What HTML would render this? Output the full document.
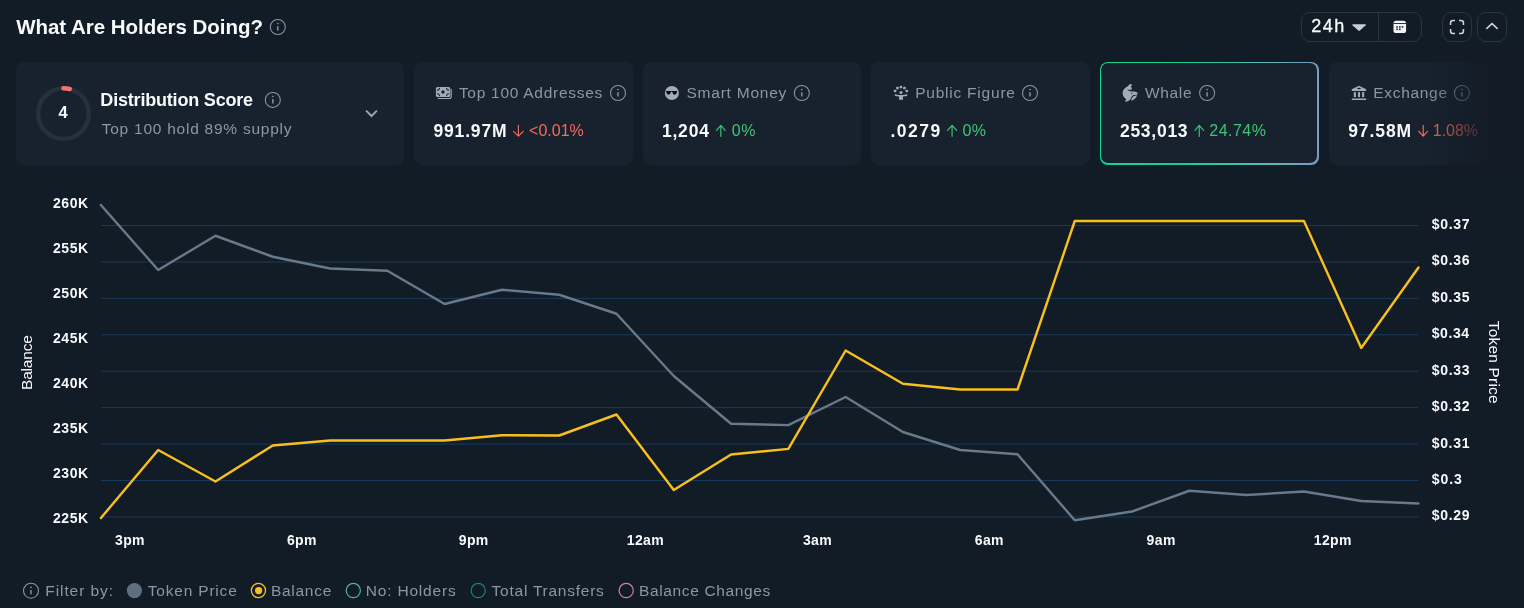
<!DOCTYPE html>
<html><head><meta charset="utf-8"><title>What Are Holders Doing?</title>
<style>
html,body{margin:0;padding:0;background:#121c26;}
body{width:1524px;height:608px;position:relative;overflow:hidden;font-family:"Liberation Sans",sans-serif;}
.t{position:absolute;white-space:pre;}
.card{position:absolute;top:62px;height:103px;background:#17222e;border-radius:8px;}
.btn{position:absolute;box-sizing:border-box;border:1px solid #2a343f;border-radius:9px;}
.rot{position:absolute;white-space:pre;color:#f8f9fb;font-size:15px;line-height:15px;}
svg{position:absolute;left:0;top:0;}
</style></head><body>
<div class="card" style="left:16px;width:388px"></div>
<div class="card" style="left:414px;width:218.67px"></div>
<div class="card" style="left:642.67px;width:218.67px"></div>
<div class="card" style="left:871.33px;width:218.67px"></div>
<div class="card" id="whale" style="left:1100px;width:219px;background:linear-gradient(90deg,#11d68c 0%,#15d090 38%,#55b9b4 72%,#7b9cc2 100%)"><div style="position:absolute;left:1px;top:1px;right:2px;bottom:2px;border-radius:7px;background:#17222e"></div></div>
<div class="card" style="left:1328.67px;width:218.67px"></div>
<div class="btn" style="left:1301px;top:12px;width:121px;height:30px"></div>
<div style="position:absolute;left:1378px;top:12px;width:1px;height:30px;background:#2a343f"></div>
<div class="btn" style="left:1442px;top:12px;width:30px;height:30px"></div>
<div class="btn" style="left:1477px;top:12px;width:30px;height:30px"></div>
<div class="t" style="left:16.17px;top:17px;font-size:20.5px;line-height:20.5px;font-weight:700;color:#f8f9fb;letter-spacing:-0.033px">What Are Holders Doing?</div>
<div class="t" style="left:1311.20px;top:17px;font-size:18px;line-height:18px;font-weight:400;color:#f8f9fb;letter-spacing:1.515px;-webkit-text-stroke:0.3px #f8f9fb">24h</div>
<div class="t" style="left:58.39px;top:104px;font-size:16.5px;line-height:16.5px;font-weight:700;color:#f8f9fb;letter-spacing:0.000px">4</div>
<div class="t" style="left:100.33px;top:91px;font-size:18px;line-height:18px;font-weight:700;color:#f8f9fb;letter-spacing:-0.191px">Distribution Score</div>
<div class="t" style="left:101.70px;top:121px;font-size:15.5px;line-height:15.5px;font-weight:400;color:#8d97a3;letter-spacing:0.756px">Top 100 hold 89% supply</div>
<div class="t" style="left:458.90px;top:85px;font-size:15.5px;line-height:15.5px;font-weight:400;color:#8d97a3;letter-spacing:0.725px">Top 100 Addresses</div>
<div class="t" style="left:433.48px;top:123px;font-size:17.5px;line-height:17.5px;font-weight:700;color:#f8f9fb;letter-spacing:0.833px">991.97M</div>
<div class="t" style="left:529.06px;top:123px;font-size:16px;line-height:16px;font-weight:400;color:#f96a5e;letter-spacing:0.013px">&lt;0.01%</div>
<div class="t" style="left:686.49px;top:85px;font-size:15.5px;line-height:15.5px;font-weight:400;color:#8d97a3;letter-spacing:0.763px">Smart Money</div>
<div class="t" style="left:661.91px;top:123px;font-size:17.5px;line-height:17.5px;font-weight:700;color:#f8f9fb;letter-spacing:0.800px">1,204</div>
<div class="t" style="left:731.79px;top:123px;font-size:16px;line-height:16px;font-weight:400;color:#3cc676;letter-spacing:0.533px">0%</div>
<div class="t" style="left:915.17px;top:85px;font-size:15.5px;line-height:15.5px;font-weight:400;color:#8d97a3;letter-spacing:0.778px">Public Figure</div>
<div class="t" style="left:890.54px;top:123px;font-size:17.5px;line-height:17.5px;font-weight:700;color:#f8f9fb;letter-spacing:1.465px">.0279</div>
<div class="t" style="left:962.39px;top:123px;font-size:16px;line-height:16px;font-weight:400;color:#3cc676;letter-spacing:0.533px">0%</div>
<div class="t" style="left:1145.01px;top:85px;font-size:15.5px;line-height:15.5px;font-weight:400;color:#8d97a3;letter-spacing:0.650px">Whale</div>
<div class="t" style="left:1119.95px;top:123px;font-size:17.5px;line-height:17.5px;font-weight:700;color:#f8f9fb;letter-spacing:0.729px">253,013</div>
<div class="t" style="left:1209.34px;top:123px;font-size:16px;line-height:16px;font-weight:400;color:#3cc676;letter-spacing:0.476px">24.74%</div>
<div class="t" style="left:1373.27px;top:85px;font-size:15.5px;line-height:15.5px;font-weight:400;color:#8d97a3;letter-spacing:0.691px">Exchange</div>
<div class="t" style="left:1348.18px;top:123px;font-size:17.5px;line-height:17.5px;font-weight:700;color:#f8f9fb;letter-spacing:0.922px">97.58M</div>
<div class="t" style="left:1432.82px;top:123px;font-size:16px;line-height:16px;font-weight:400;color:#f96a5e;letter-spacing:-0.053px">1.08%</div>
<div class="t" style="left:45.27px;top:583px;font-size:15.5px;line-height:15.5px;font-weight:400;color:#8d97a3;letter-spacing:0.924px">Filter by:</div>
<div class="t" style="left:147.80px;top:583px;font-size:15.5px;line-height:15.5px;font-weight:400;color:#8d97a3;letter-spacing:0.801px">Token Price</div>
<div class="t" style="left:270.97px;top:583px;font-size:15.5px;line-height:15.5px;font-weight:400;color:#8d97a3;letter-spacing:0.713px">Balance</div>
<div class="t" style="left:365.77px;top:583px;font-size:15.5px;line-height:15.5px;font-weight:400;color:#8d97a3;letter-spacing:0.804px">No: Holders</div>
<div class="t" style="left:491.60px;top:583px;font-size:15.5px;line-height:15.5px;font-weight:400;color:#8d97a3;letter-spacing:0.758px">Total Transfers</div>
<div class="t" style="left:638.97px;top:583px;font-size:15.5px;line-height:15.5px;font-weight:400;color:#8d97a3;letter-spacing:0.638px">Balance Changes</div>
<div class="t" style="left:52.97px;top:196px;font-size:14px;line-height:14px;font-weight:700;color:#f8f9fb;letter-spacing:0.593px">260K</div>
<div class="t" style="left:52.97px;top:241px;font-size:14px;line-height:14px;font-weight:700;color:#f8f9fb;letter-spacing:0.593px">255K</div>
<div class="t" style="left:52.97px;top:286px;font-size:14px;line-height:14px;font-weight:700;color:#f8f9fb;letter-spacing:0.593px">250K</div>
<div class="t" style="left:52.97px;top:331px;font-size:14px;line-height:14px;font-weight:700;color:#f8f9fb;letter-spacing:0.593px">245K</div>
<div class="t" style="left:52.97px;top:376px;font-size:14px;line-height:14px;font-weight:700;color:#f8f9fb;letter-spacing:0.593px">240K</div>
<div class="t" style="left:52.97px;top:421px;font-size:14px;line-height:14px;font-weight:700;color:#f8f9fb;letter-spacing:0.593px">235K</div>
<div class="t" style="left:52.97px;top:466px;font-size:14px;line-height:14px;font-weight:700;color:#f8f9fb;letter-spacing:0.593px">230K</div>
<div class="t" style="left:52.97px;top:511px;font-size:14px;line-height:14px;font-weight:700;color:#f8f9fb;letter-spacing:0.593px">225K</div>
<div class="t" style="left:1431.66px;top:217px;font-size:14px;line-height:14px;font-weight:700;color:#f8f9fb;letter-spacing:0.738px">$0.37</div>
<div class="t" style="left:1431.66px;top:253px;font-size:14px;line-height:14px;font-weight:700;color:#f8f9fb;letter-spacing:0.724px">$0.36</div>
<div class="t" style="left:1431.66px;top:290px;font-size:14px;line-height:14px;font-weight:700;color:#f8f9fb;letter-spacing:0.697px">$0.35</div>
<div class="t" style="left:1431.66px;top:326px;font-size:14px;line-height:14px;font-weight:700;color:#f8f9fb;letter-spacing:0.615px">$0.34</div>
<div class="t" style="left:1431.66px;top:363px;font-size:14px;line-height:14px;font-weight:700;color:#f8f9fb;letter-spacing:0.735px">$0.33</div>
<div class="t" style="left:1431.66px;top:399px;font-size:14px;line-height:14px;font-weight:700;color:#f8f9fb;letter-spacing:0.727px">$0.32</div>
<div class="t" style="left:1431.66px;top:436px;font-size:14px;line-height:14px;font-weight:700;color:#f8f9fb;letter-spacing:0.687px">$0.31</div>
<div class="t" style="left:1431.66px;top:472px;font-size:14px;line-height:14px;font-weight:700;color:#f8f9fb;letter-spacing:0.969px">$0.3</div>
<div class="t" style="left:1431.66px;top:508px;font-size:14px;line-height:14px;font-weight:700;color:#f8f9fb;letter-spacing:0.725px">$0.29</div>
<div class="t" style="left:115.08px;top:533px;font-size:14px;line-height:14px;font-weight:700;color:#f8f9fb;letter-spacing:0.350px">3pm</div>
<div class="t" style="left:286.93px;top:533px;font-size:14px;line-height:14px;font-weight:700;color:#f8f9fb;letter-spacing:0.350px">6pm</div>
<div class="t" style="left:458.78px;top:533px;font-size:14px;line-height:14px;font-weight:700;color:#f8f9fb;letter-spacing:0.350px">9pm</div>
<div class="t" style="left:626.78px;top:533px;font-size:14px;line-height:14px;font-weight:700;color:#f8f9fb;letter-spacing:0.350px">12am</div>
<div class="t" style="left:802.90px;top:533px;font-size:14px;line-height:14px;font-weight:700;color:#f8f9fb;letter-spacing:0.350px">3am</div>
<div class="t" style="left:974.75px;top:533px;font-size:14px;line-height:14px;font-weight:700;color:#f8f9fb;letter-spacing:0.350px">6am</div>
<div class="t" style="left:1146.61px;top:533px;font-size:14px;line-height:14px;font-weight:700;color:#f8f9fb;letter-spacing:0.350px">9am</div>
<div class="t" style="left:1313.80px;top:533px;font-size:14px;line-height:14px;font-weight:700;color:#f8f9fb;letter-spacing:0.350px">12pm</div>
<div class="rot" id="balance" style="left:0;top:0;transform-origin:0 0;transform:translate(19.3px,390px) rotate(-90deg);font-size:15.5px;line-height:15.5px;letter-spacing:-0.2px">Balance</div>
<div class="rot" id="tokenprice" style="left:0;top:0;transform-origin:0 0;transform:translate(1502px,320.7px) rotate(90deg);font-size:15.5px;line-height:15.5px;letter-spacing:0.2px">Token Price</div>
<svg width="1524" height="608" viewBox="0 0 1524 608">
<path d="M101 225.50H1418" stroke="#193b5b" stroke-width="1"/><path d="M101 261.93H1418" stroke="#193b5b" stroke-width="1"/><path d="M101 298.36H1418" stroke="#193b5b" stroke-width="1"/><path d="M101 334.79H1418" stroke="#193b5b" stroke-width="1"/><path d="M101 371.22H1418" stroke="#193b5b" stroke-width="1"/><path d="M101 407.65H1418" stroke="#193b5b" stroke-width="1"/><path d="M101 444.08H1418" stroke="#193b5b" stroke-width="1"/><path d="M101 480.51H1418" stroke="#193b5b" stroke-width="1"/><path d="M101 516.94H1418" stroke="#193b5b" stroke-width="1"/>
<path d="M100.90 205.00 L158.19 270.00 L215.47 235.75 L272.76 256.75 L330.05 268.50 L387.33 270.75 L444.62 304.00 L501.91 289.75 L559.20 294.75 L616.48 313.75 L673.77 376.00 L731.06 423.75 L788.34 425.10 L845.63 397.00 L902.92 432.00 L960.20 450.00 L1017.49 454.25 L1074.78 520.25 L1132.07 511.50 L1189.35 490.75 L1246.64 495.00 L1303.93 491.50 L1361.21 501.00 L1418.50 503.50" fill="none" stroke="#68798a" stroke-width="2.4" stroke-linejoin="round" stroke-linecap="round"/>
<path d="M100.90 518.00 L158.19 450.00 L215.47 481.50 L272.76 445.50 L330.05 440.50 L387.33 440.50 L444.62 440.50 L501.91 435.25 L559.20 435.50 L616.48 414.50 L673.77 490.00 L731.06 454.50 L788.34 448.90 L845.63 350.50 L902.92 383.75 L960.20 389.50 L1017.49 389.50 L1074.78 221.00 L1132.07 221.00 L1189.35 221.00 L1246.64 221.00 L1303.93 221.00 L1361.21 348.00 L1418.50 267.50" fill="none" stroke="#f9c01d" stroke-width="2.4" stroke-linejoin="round" stroke-linecap="round"/>
<!--ICONS-->
<g stroke="#8d97a3" fill="none" stroke-width="1.05"><circle cx="277.8" cy="27" r="7.5"/><path d="M277.8 26.2V30.6" stroke-width="1.4"/><circle cx="277.8" cy="23.6" r="0.5" fill="#8d97a3" stroke-width="0.8"/></g><g stroke="#8d97a3" fill="none" stroke-width="1.05"><circle cx="272.8" cy="99.9" r="7.5"/><path d="M272.8 99.10000000000001V103.5" stroke-width="1.4"/><circle cx="272.8" cy="96.5" r="0.5" fill="#8d97a3" stroke-width="0.8"/></g><g stroke="#8d97a3" fill="none" stroke-width="1.05"><circle cx="618" cy="93" r="7.5"/><path d="M618 92.2V96.6" stroke-width="1.4"/><circle cx="618" cy="89.6" r="0.5" fill="#8d97a3" stroke-width="0.8"/></g><g stroke="#8d97a3" fill="none" stroke-width="1.05"><circle cx="801.8" cy="93" r="7.5"/><path d="M801.8 92.2V96.6" stroke-width="1.4"/><circle cx="801.8" cy="89.6" r="0.5" fill="#8d97a3" stroke-width="0.8"/></g><g stroke="#8d97a3" fill="none" stroke-width="1.05"><circle cx="1030" cy="93" r="7.5"/><path d="M1030 92.2V96.6" stroke-width="1.4"/><circle cx="1030" cy="89.6" r="0.5" fill="#8d97a3" stroke-width="0.8"/></g><g stroke="#8d97a3" fill="none" stroke-width="1.05"><circle cx="1207.1" cy="93" r="7.5"/><path d="M1207.1 92.2V96.6" stroke-width="1.4"/><circle cx="1207.1" cy="89.6" r="0.5" fill="#8d97a3" stroke-width="0.8"/></g><g stroke="#8d97a3" fill="none" stroke-width="1.05"><circle cx="1461.9" cy="93" r="7.5"/><path d="M1461.9 92.2V96.6" stroke-width="1.4"/><circle cx="1461.9" cy="89.6" r="0.5" fill="#8d97a3" stroke-width="0.8"/></g><g stroke="#8d97a3" fill="none" stroke-width="1.05"><circle cx="31" cy="590.7" r="7.5"/><path d="M31 589.9000000000001V594.3000000000001" stroke-width="1.4"/><circle cx="31" cy="587.3000000000001" r="0.5" fill="#8d97a3" stroke-width="0.8"/></g><path d="M518.4 125.3V136M513.5 131.3L518.4 136.2L523.3 131.3" stroke="#f96a5e" stroke-width="1.15" fill="none" stroke-linecap="round" stroke-linejoin="round"/><path d="M720.85 136.3V125.6M716.5 130.3L720.85 125.4L725.2 130.3" stroke="#3cc676" stroke-width="1.15" fill="none" stroke-linecap="round" stroke-linejoin="round"/><path d="M952.1 136.3V125.6M947.5 130.3L952.1 125.4L956.7 130.3" stroke="#3cc676" stroke-width="1.15" fill="none" stroke-linecap="round" stroke-linejoin="round"/><path d="M1199.25 136.3V125.6M1194.9 130.3L1199.25 125.4L1203.6 130.3" stroke="#3cc676" stroke-width="1.15" fill="none" stroke-linecap="round" stroke-linejoin="round"/><path d="M1423.1999999999998 125.3V136M1418.8 131.3L1423.1999999999998 136.2L1427.6 131.3" stroke="#f96a5e" stroke-width="1.15" fill="none" stroke-linecap="round" stroke-linejoin="round"/><g transform="translate(435.9,86.9)"><rect x="0" y="0" width="14.3" height="10.1" rx="1.6" fill="#a3acb6"/><circle cx="7.1" cy="5.1" r="1.7" fill="#17222e"/><rect x="5.2" y="1.2" width="3.9" height="7.8" fill="#b4bcc5" opacity="0.0"/><g fill="none" stroke="#17222e" stroke-width="1.1" stroke-linecap="round"><path d="M1.5 3.2A2.2 2.2 0 0 0 3.6 1.4"/><path d="M12.8 3.2A2.2 2.2 0 0 1 10.7 1.4"/><path d="M1.5 6.9A2.2 2.2 0 0 1 3.6 8.7"/><path d="M12.8 6.9A2.2 2.2 0 0 0 10.7 8.7"/></g><path d="M2.4 11.6H13.6A1.7 1.7 0 0 0 15.3 9.9V2.4" fill="none" stroke="#a3acb6" stroke-width="1.1" stroke-linecap="round"/></g><circle cx="671.9" cy="92.95" r="7" fill="#a3acb6"/><path d="M666.1 91.05H677.1999999999999L676.5 93.55Q675.8 94.85000000000001 674.5 94.65Q673.3 94.45 672.8 93.15L672.1999999999999 91.85000000000001H671.0L670.4 93.35000000000001Q669.8 94.75 668.5 94.75Q667.1999999999999 94.65 666.8 93.35000000000001Z" fill="#050607"/><rect x="893.85" y="89.65" width="2.5" height="2.5" rx="0.6" fill="#a3acb6"/><rect x="896.15" y="86.75" width="2.5" height="2.5" rx="0.6" fill="#a3acb6"/><rect x="899.70" y="85.85" width="2.5" height="2.5" rx="0.6" fill="#a3acb6"/><rect x="903.15" y="86.75" width="2.5" height="2.5" rx="0.6" fill="#a3acb6"/><rect x="905.55" y="89.65" width="2.5" height="2.5" rx="0.6" fill="#a3acb6"/><circle cx="901" cy="92.5" r="1.6" fill="#a3acb6"/><path d="M894.8 94.3L899 95H903L907.2 94.3V96L903 96.6V99.7H899V96.6L894.8 96Z" fill="#a3acb6"/><g transform="translate(1122.4,83.9)"><path d="M5.43 2.47L6.66 0.74Q8.63 -0.49 9.47 0.74Q9.62 1.97 8.14 2.96Q9.87 3.70 9.47 5.18Q8.39 6.41 6.66 5.82Q5.53 5.43 5.03 5.03Q5.33 7.01 7.40 7.30L13.32 7.79Q15.69 8.39 15.39 10.11Q14.55 11.35 10.85 11.10Q9.13 12.43 7.99 15.29L7.01 16.38Q5.43 18.01 2.86 17.86Q2.57 16.53 3.95 15.29Q0.25 13.32 0.20 8.88Q0.59 4.69 5.43 2.47Z" fill="#a3acb6"/><path d="M8.78 15.79Q9.37 13.57 11.35 12.09L15.05 11.45Q13.32 15.29 9.13 16.87Z" fill="#a3acb6"/><circle cx="9.37" cy="9.47" r="0.7" fill="#17222e"/></g><g fill="#a3acb6"><path d="M1351.8 89.3L1359.0 85.8L1366.2 89.3V91.1H1351.8Z"/><ellipse cx="1359.0" cy="88.5" rx="1.9" ry="0.75" fill="#17222e"/><rect x="1353.8" y="92.1" width="2.1" height="5"/><rect x="1357.95" y="92.1" width="2.1" height="5"/><rect x="1362.1" y="92.1" width="2.1" height="5"/><rect x="1351.8" y="98.5" width="14.4" height="1.5"/></g><circle cx="63.45" cy="113.55" r="25.35" fill="none" stroke="#27313b" stroke-width="4.4"/><path d="M63.45 88.2A25.35 25.35 0 0 1 69.75 89" fill="none" stroke="#f87272" stroke-width="4.6" stroke-linecap="round"/><path d="M366.1 110.6L371.5 116L376.9 110.6" fill="none" stroke="#9aa4ae" stroke-width="2"/><path d="M1352.9 24.3H1365.3Q1366.3 24.4 1365.7 25.2L1359.9 30.5Q1359.1 31.1 1358.3 30.5L1352.5 25.2Q1351.9 24.4 1352.9 24.3Z" fill="#c9ced4"/><rect x="1393.5" y="20.7" width="12.6" height="12.4" rx="2.6" fill="#f1f3f5"/><rect x="1393.5" y="23.1" width="12.6" height="0.9" fill="#121c26"/><rect x="1396.3" y="26.2" width="1.6" height="1.5" fill="#121c26"/><rect x="1399" y="26.2" width="1.6" height="1.5" fill="#121c26"/><rect x="1401.7" y="26.2" width="1.6" height="1.5" fill="#121c26"/><rect x="1396.3" y="28.6" width="1.6" height="1.5" fill="#121c26"/><rect x="1399" y="28.6" width="1.6" height="1.5" fill="#121c26"/><path d="M1450.55 25V23.05A2.5 2.5 0 0 1 1453.05 20.55H1455 M1459 20.55H1460.95A2.5 2.5 0 0 1 1463.45 23.05V25 M1463.45 29V30.95A2.5 2.5 0 0 1 1460.95 33.45H1459 M1455 33.45H1453.05A2.5 2.5 0 0 1 1450.55 30.95V29" fill="none" stroke="#d3d7dc" stroke-width="1.5"/><path d="M1486.3 28.9L1492 23.6L1497.7 28.9" fill="none" stroke="#d3d7dc" stroke-width="1.5"/><circle cx="134.4" cy="590.55" r="7.6" fill="#5f6f7e"/><circle cx="258.45" cy="590.55" r="7.1" fill="none" stroke="#f8bf1e" stroke-width="1.3"/><circle cx="258.6" cy="590.6" r="3.6" fill="#f8bf1e"/><circle cx="353.3" cy="590.55" r="7.1" fill="none" stroke="#4fb3a8" stroke-width="1.2"/><circle cx="478.2" cy="590.55" r="7.1" fill="none" stroke="#17857c" stroke-width="1.2"/><circle cx="626.2" cy="590.55" r="7.1" fill="none" stroke="#d77fa6" stroke-width="1.2"/>
</svg>
<div style="position:absolute;left:1425px;top:55px;width:99px;height:118px;background:linear-gradient(90deg,rgba(18,27,38,0) 0%,rgba(18,27,38,1) 72%)"></div>
</body></html>
